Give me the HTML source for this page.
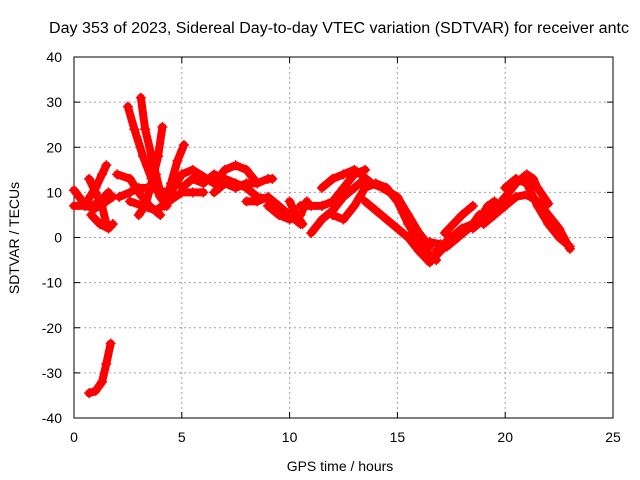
<!DOCTYPE html>
<html><head><meta charset="utf-8"><style>
html,body{margin:0;padding:0;background:#fff;}
svg{display:block;font-family:"Liberation Sans",sans-serif;}
</style></head><body>
<svg id="chart" width="640" height="480" viewBox="0 0 640 480">
<rect width="640" height="480" fill="#fff"/>
<text x="49" y="33" font-size="15.5" textLength="580" lengthAdjust="spacingAndGlyphs" fill="#000">Day 353 of 2023, Sidereal Day-to-day VTEC variation (SDTVAR) for receiver antc</text>
<g id="grid"></g>
<g id="axes"></g>
<g id="marks"></g>
<text x="340" y="471" font-size="14" text-anchor="middle">GPS time / hours</text>
<text transform="translate(19,238) rotate(-90)" font-size="14" text-anchor="middle">SDTVAR / TECUs</text>
</svg>
<script>
const xTicks=[0,5,10,15,20,25];
const yTicks=[-40,-30,-20,-10,0,10,20,30,40];
const tracks=[
[[0,10.5],[0.4,8],[0.8,7],[1.2,8],[1.6,10]],
[[0,7],[0.5,7],[1,6.5],[1.5,8],[1.8,9]],
[[0.7,13],[1,10],[1.3,7],[1.5,3]],
[[0.6,8],[1,11],[1.3,14],[1.5,16]],
[[0.8,5],[1.2,3],[1.6,2],[1.8,3]],
[[0.7,-34.5],[1,-34],[1.3,-32],[1.5,-28],[1.7,-23.5]],
[[2.5,29],[2.8,24],[3.2,18],[3.6,13],[4,9],[4.3,7]],
[[3.1,31],[3.3,24],[3.6,18],[3.8,14],[4,10]],
[[4.1,24.5],[3.9,18],[3.6,12],[3.3,7],[3.0,5]],
[[4.2,7],[4.5,12],[4.8,17],[5.1,20.5]],
[[2.1,9],[2.6,10],[3,11],[3.6,11],[4.2,10]],
[[2,14],[2.6,13],[3,10],[3.5,7],[4,5]],
[[2.6,8],[3.2,7],[3.8,6],[4.4,8],[5,10],[5.5,10],[6,10]],
[[4.5,10],[5,14],[5.5,15],[6,13.5],[6.5,12],[7,15],[7.5,16],[8,15],[8.5,12]],
[[5,11],[5.5,13],[6,12],[6.5,14],[7,13],[7.5,12],[8,11],[8.5,9],[9,8.5]],
[[6.5,10],[7,12],[7.5,11],[8,12],[8.5,12],[9,13],[9.2,13]],
[[8,8],[8.5,8],[9,9],[9.5,7],[10,5],[10.5,3]],
[[9,7],[9.5,5],[10,4],[10.5,5],[10.8,8]],
[[10,8],[10.3,5],[10.6,3]],
[[10.5,7],[11,7],[11.5,7],[12,8],[12.5,11],[13,14],[13.5,15]],
[[11,1],[11.5,4],[12,6],[12.5,9],[13,11],[13.5,13]],
[[11.5,11],[12,13],[12.5,14],[13,15],[13.3,14],[13.8,12],[14.3,11],[15,9],[15.5,5],[16,1],[16.5,-2]],
[[12,5],[12.5,4],[13,7],[13.5,11],[14,12],[14.5,11],[15,8],[15.5,3],[16,-1],[16.5,-4],[16.8,-5]],
[[13.5,8],[14,6],[14.5,4],[15,2],[15.5,0],[16,-3],[16.5,-5.5],[17,-3],[17.2,-2]],
[[16,-1.5],[16.5,-1],[17,-1.5]],
[[17,-2],[17.5,0],[18,2],[18.5,3],[18.8,5]],
[[17.2,1],[17.6,3],[18,5],[18.5,7]],
[[16.8,-3],[17.3,-2],[17.8,0],[18.3,2],[18.8,4],[19.2,7],[19.5,8]],
[[18.5,2],[19,4],[19.5,6],[20,9],[20.5,12],[21,14],[21.3,13],[21.5,11],[22,7.5]],
[[19,5],[19.5,7],[20,7],[20.5,9],[21,9.5],[21.5,8],[22,5],[22.5,2],[23,-2.5]],
[[20,11],[20.5,13],[21,12],[21.5,7],[22,3],[22.5,0],[23,-2]],
[[19,3],[19.5,5],[20,7]]
];
const X0=74,X1=613,Y0=418,Y1=57;
function xs(v){return X0+(v-0)/(25-0)*(X1-X0);}
function ys(v){return Y0-(v+40)/80*(Y0-Y1);}
const NS="http://www.w3.org/2000/svg";
function mk(tag,attrs,parent){const e=document.createElementNS(NS,tag);for(const k in attrs)e.setAttribute(k,attrs[k]);parent.appendChild(e);return e;}
const grid=document.getElementById('grid'),axes=document.getElementById('axes'),marks=document.getElementById('marks');
xTicks.forEach(t=>{
  const x=xs(t);
  if(t>0&&t<25){const g=mk('line',{x1:x,y1:Y1,x2:x,y2:Y0,stroke:'#a0a0a0','stroke-dasharray':'2,3'},grid);
  
  }
  mk('line',{x1:x,y1:Y0,x2:x,y2:Y0-6,stroke:'#000'},axes);
  mk('line',{x1:x,y1:Y1,x2:x,y2:Y1+6,stroke:'#000'},axes);
  const l=mk('text',{x:x,y:Y0+24,'font-size':'14','text-anchor':'middle'},axes);
  l.textContent=t;
  
  
});
yTicks.forEach(t=>{
  const y=ys(t);
  if(t>-40&&t<40){const g=mk('line',{x1:X0,y1:y,x2:X1,y2:y,stroke:'#a0a0a0','stroke-dasharray':'2,3'},grid);
  
  }
  mk('line',{x1:X0,y1:y,x2:X0+6,y2:y,stroke:'#000'},axes);
  mk('line',{x1:X1,y1:y,x2:X1-6,y2:y,stroke:'#000'},axes);
  const l=mk('text',{x:X0-12,y:y+5,'font-size':'14','text-anchor':'end'},axes);
  l.textContent=t;
  
  
});
const frame=mk('rect',{x:X0,y:Y1,width:X1-X0,height:Y0-Y1,fill:'none',stroke:'#000'},axes);


tracks.forEach((tr,i)=>{
  const pts=tr.map(p=>xs(p[0])+','+ys(p[1])).join(' ');
  const pl=mk('polyline',{points:pts,fill:'none',stroke:'#ff0000','stroke-width':8,'stroke-linejoin':'round','stroke-linecap':'round'},marks);
  
  
  tr.forEach(p=>{
    const x=xs(p[0]),y=ys(p[1]);
    const m=mk('path',{d:`M${x-5},${y}H${x+5}M${x},${y-5}V${y+5}`,stroke:'#ff0000','stroke-width':1.5},marks);
    
    
  });
});
</script>
</body></html>
